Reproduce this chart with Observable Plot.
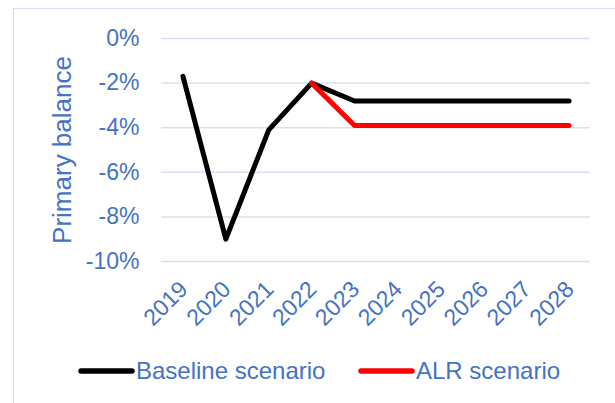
<!DOCTYPE html>
<html>
<head>
<meta charset="utf-8">
<script src="https://cdn.jsdelivr.net/npm/d3@7"></script>
<script src="https://cdn.jsdelivr.net/npm/@observablehq/plot@0.6"></script>
<style>
  html, body { margin: 0; padding: 0; background: #fff; }
  #wrap { position: relative; width: 615px; height: 403px; overflow: hidden; font-family: "Liberation Sans", Arial, sans-serif; }
  #frame { position: absolute; left: 13px; top: 8px; width: 700px; height: 500px; border: 1.5px solid #D5DFF0; box-sizing: border-box; }
  #chart { position: absolute; left: 0; top: 0; }
  #legend { position: absolute; left: 0; top: 354px; width: 615px; height: 34px; }
  .item { position: absolute; top: 0; display: flex; align-items: center; height: 34px; color: #4472C4; font-size: 24px; }
  .item svg { display: block; margin-right: 1px; }
</style>
</head>
<body>
<div id="wrap">
  <div id="frame"></div>
  <div id="chart"></div>
  <div id="legend"></div>
</div>
<script>
const years = ["2019","2020","2021","2022","2023","2024","2025","2026","2027","2028"];
const baseline = [-1.7, -9.0, -4.1, -2.0, -2.8, -2.8, -2.8, -2.8, -2.8, -2.8];
const alr = [null, null, null, -2.0, -3.9, -3.9, -3.9, -3.9, -3.9, -3.9];
const seriesNames = ["Baseline scenario", "ALR scenario"];
const seriesColors = ["#000000", "#FF0000"];
const yTicks = [0, -2, -4, -6, -8, -10];

const rows = [];
years.forEach((yr, i) => {
  rows.push({year: yr, value: baseline[i], series: seriesNames[0]});
  if (alr[i] !== null) rows.push({year: yr, value: alr[i], series: seriesNames[1]});
});

const blue = "#4472C4";
const chart = Plot.plot({
  width: 615,
  height: 345,
  marginTop: 38,
  marginLeft: 161,
  marginRight: 25,
  marginBottom: 84,
  style: {fontFamily: "'Liberation Sans', Arial, sans-serif", background: "transparent", overflow: "visible"},
  x: {type: "point", domain: years, padding: 0.5, round: false},
  y: {domain: [-10, 0]},
  color: {domain: seriesNames, range: seriesColors},
  marks: [
    Plot.gridY(yTicks, {stroke: "#D6E0F1", strokeOpacity: 1, strokeWidth: 1.5}),
    Plot.axisY({ticks: yTicks, tickFormat: d => d + "%", tickSize: 0, tickPadding: 22, fontSize: 23, color: blue, label: null}),
    Plot.axisX({tickRotate: -45, tickSize: 0, tickPadding: 24, fontSize: 23, color: blue, label: null, dx: 1}),
    Plot.text(["Primary balance"], {frameAnchor: "left", dx: -99, rotate: -90, fontSize: 26, fill: blue, textAnchor: "middle"}),
    Plot.line(rows.filter(d => d.series === seriesNames[0]), {x: "year", y: "value", stroke: "series", strokeWidth: 5, strokeLinejoin: "round", strokeLinecap: "round"}),
    Plot.line(rows.filter(d => d.series === seriesNames[1]), {x: "year", y: "value", stroke: "series", strokeWidth: 5, strokeLinejoin: "round", strokeLinecap: "round"})
  ]
});
document.getElementById("chart").appendChild(chart);

const legend = document.getElementById("legend");
const lefts = [78, 358];
seriesNames.forEach((name, i) => {
  const item = document.createElement("div");
  item.className = "item";
  item.style.left = lefts[i] + "px";
  item.innerHTML = `<svg width="57" height="10"><line x1="3" y1="5" x2="54" y2="5" stroke="${seriesColors[i]}" stroke-width="5.5" stroke-linecap="round"/></svg><span>${name}</span>`;
  legend.appendChild(item);
});
</script>
</body>
</html>
